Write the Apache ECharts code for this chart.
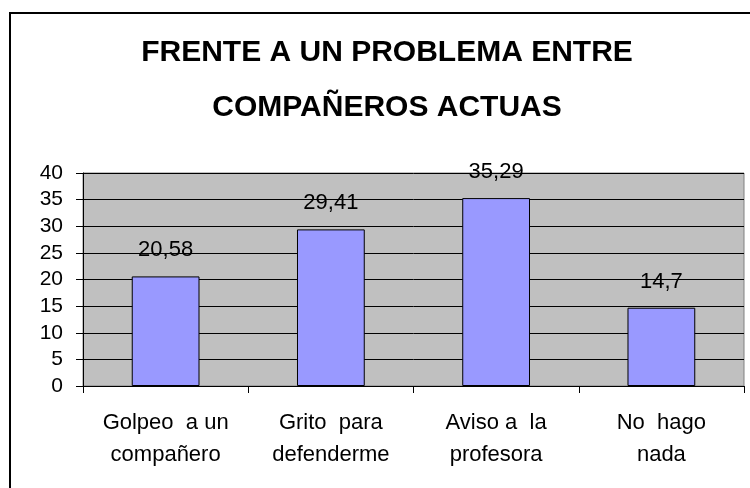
<!DOCTYPE html>
<html>
<head>
<meta charset="utf-8">
<script src="https://cdn.jsdelivr.net/npm/echarts@6/dist/echarts.min.js"></script>
<style>
  html, body { margin: 0; padding: 0; background: #fff; }
  #chart { width: 750px; height: 488px; }
</style>
</head>
<body>
<div id="chart"></div>
<script>
const titleText = "FRENTE A UN PROBLEMA ENTRE\nCOMPAÑEROS ACTUAS";
const categories = ["Golpeo  a un\ncompañero", "Grito  para\ndefenderme", "Aviso a  la\nprofesora", "No  hago\nnada"];
const values = [20.58, 29.41, 35.29, 14.7];

const chart = echarts.init(document.getElementById("chart"));
chart.setOption({
  animation: false,
  backgroundColor: "#fff",
  textStyle: { fontFamily: "Liberation Sans, Arial, sans-serif" },
  graphic: [
    {
      type: "rect",
      shape: { x: 10, y: 13, width: 760, height: 500 },
      style: { fill: "none", stroke: "#000", lineWidth: 2 },
      silent: true
    },
    {
      type: "text",
      x: 387,
      y: 80,
      style: {
        text: titleText,
        textAlign: "center",
        textVerticalAlign: "middle",
        font: "bold 30px 'Liberation Sans', Arial, sans-serif",
        lineHeight: 55,
        fill: "#000"
      }
    }
  ],
  grid: {
    left: 83,
    right: 6,
    top: 173,
    bottom: 102,
    show: true,
    backgroundColor: "#C0C0C0",
    borderColor: "#808080",
    borderWidth: 1
  },
  xAxis: {
    type: "category",
    data: categories,
    axisLine: { lineStyle: { color: "#000", width: 1 } },
    axisTick: { show: true, length: 7, lineStyle: { color: "#000" } },
    axisLabel: { color: "#000", fontSize: 22, lineHeight: 32, margin: 21, interval: 0 }
  },
  yAxis: {
    type: "value",
    min: 0,
    max: 40,
    interval: 5,
    axisLine: { show: true, lineStyle: { color: "#000", width: 1 } },
    axisTick: { show: true, length: 7, lineStyle: { color: "#000" } },
    axisLabel: { color: "#000", fontSize: 21, margin: 20 },
    splitLine: { show: true, lineStyle: { color: "#000", width: 1 } }
  },
  series: [
    {
      type: "bar",
      data: values,
      barWidth: "41%",
      itemStyle: { color: "#9999FF", borderColor: "#000", borderWidth: 1 },
      label: {
        show: true,
        position: "top",
        distance: 15,
        color: "#000",
        fontSize: 22,
        formatter: (p) => String(p.value).replace(".", ",")
      }
    }
  ]
});
</script>
</body>
</html>
